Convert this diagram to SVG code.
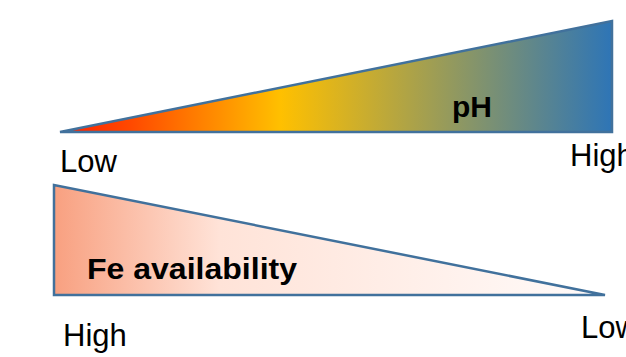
<svg xmlns="http://www.w3.org/2000/svg" width="626" height="357" viewBox="0 0 626 357">
  <defs>
    <linearGradient id="phGrad" gradientUnits="userSpaceOnUse" x1="60" y1="0" x2="612" y2="0">
      <stop offset="0" stop-color="#FF1E00"/>
      <stop offset="0.13" stop-color="#FF4A00"/>
      <stop offset="0.4" stop-color="#FFC000"/>
      <stop offset="1" stop-color="#2E75B6"/>
    </linearGradient>
    <linearGradient id="feGrad" gradientUnits="userSpaceOnUse" x1="54" y1="0" x2="606" y2="0">
      <stop offset="0" stop-color="#F8A080"/>
      <stop offset="0.3" stop-color="#FFE3D8"/>
      <stop offset="1" stop-color="#FFFBFA"/>
    </linearGradient>
    <style>
      .tri { stroke: #41719C; stroke-width: 2.5; stroke-linejoin: miter; }
      .lbl { font-family: "Liberation Sans", Arial, sans-serif; font-size: 31px; fill: #000; }
      .bold { font-family: "Liberation Sans", Arial, sans-serif; font-size: 30px; font-weight: bold; fill: #000; }
    </style>
  </defs>
  <rect width="626" height="357" fill="#FFFFFF"/>
  <g id="ph-triangle">
    <polygon class="tri" points="60,132 612,21 612,132" fill="url(#phGrad)"/>
    <text class="bold" x="452" y="117">pH</text>
  </g>
  <g id="fe-triangle">
    <polygon class="tri" points="54,185 54,295 605,295" fill="url(#feGrad)"/>
    <text class="bold" x="87" y="279" textLength="210" lengthAdjust="spacingAndGlyphs">Fe availability</text>
  </g>
  <g id="labels">
    <text class="lbl" x="60" y="172">Low</text>
    <text class="lbl" x="570" y="166">High</text>
    <text class="lbl" x="63" y="346">High</text>
    <text class="lbl" x="581" y="338">Low</text>
  </g>
  <g id="connectors"/>
</svg>
